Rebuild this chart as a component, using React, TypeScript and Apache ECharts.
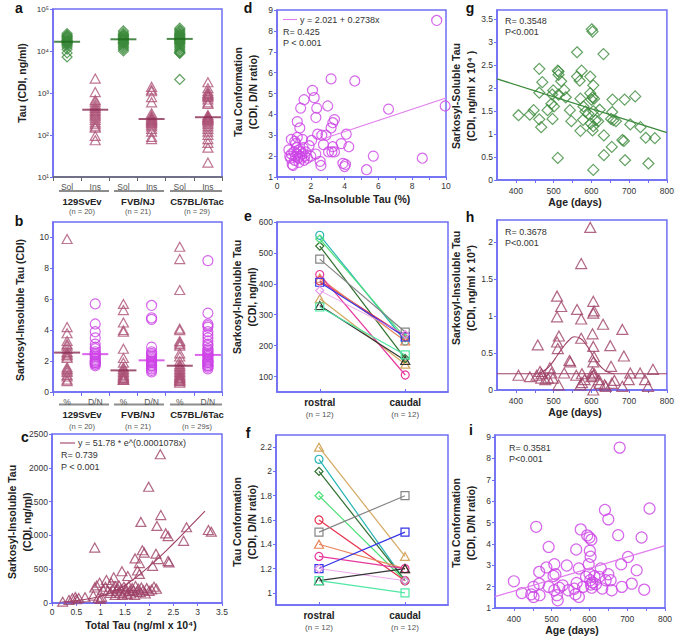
import React, { useEffect, useRef } from 'react';
import * as echarts from 'echarts';

// ---------------- data ----------------
const strains = ['129SvEv', 'FVB/NJ', 'C57BL/6Tac'];
const strainNa = ['(n = 20)', '(n = 21)', '(n = 29)'];
const strainNb = ['(n = 20)', '(n = 21)', '(n = 29s)'];
const catsA = ['Sol', 'Ins', 'Sol', 'Ins', 'Sol', 'Ins'];
const catsB = ['%', 'D/N', '%', 'D/N', '%', 'D/N'];
const supDigits = ['⁰', '¹', '²', '³', '⁴', '⁵'];
const regions = ['rostral', 'caudal'];
const regionN = '(n = 12)';

// panel a (ng/ml)
const solubleTau129 = [26000, 24000, 23000, 22000, 21000, 20000, 19000, 18000, 17500, 17000, 16500, 16000, 15500, 15000, 14500, 13500, 12500, 11000, 9000, 7200];
const insolubleTau129 = [2200, 1050, 680, 620, 540, 480, 440, 400, 370, 340, 310, 290, 260, 230, 200, 180, 160, 150, 95, 75];
const solubleTauFVB = [30000, 27000, 25000, 24000, 23000, 22000, 21000, 20000, 19500, 19000, 18500, 18000, 17000, 16000, 15500, 15000, 14000, 13000, 12000, 11000, 10000];
const insolubleTauFVB = [1400, 1200, 1100, 800, 600, 330, 290, 270, 250, 240, 230, 220, 210, 200, 190, 175, 160, 140, 120, 90, 80];
const solubleTauC57 = [35000, 32000, 30000, 28000, 26000, 25000, 24000, 23000, 22000, 21000, 20000, 19500, 19000, 18500, 18000, 17500, 17000, 16000, 15500, 15000, 14000, 13000, 12000, 11000, 10000, 9500, 9000, 8800, 2100];
const insolubleTauC57 = [1800, 1300, 1100, 1000, 950, 900, 850, 800, 700, 600, 550, 300, 280, 270, 260, 250, 240, 230, 220, 200, 180, 160, 140, 120, 100, 80, 65, 50, 22];
const medianA = [16600, 400, 19000, 240, 19400, 265];

// panel b
const pct129 = [9.9, 4.2, 3.8, 3.3, 3.1, 3.0, 2.8, 2.6, 2.5, 2.4, 2.3, 2.2, 1.6, 1.5, 1.4, 1.3, 1.1, 1.0, 0.8, 0.7];
const dn129 = [5.7, 4.4, 3.9, 3.5, 3.1, 2.9, 2.8, 2.6, 2.5, 2.4, 2.3, 2.2, 2.1, 2.0, 2.0, 1.9, 1.9, 1.8, 1.8, 1.7];
const pctFVB = [5.7, 5.3, 4.5, 4.0, 3.9, 2.8, 2.2, 1.9, 1.6, 1.5, 1.4, 1.3, 1.2, 1.1, 1.0, 1.0, 0.9, 0.9, 0.8, 0.8, 0.8];
const dnFVB = [5.6, 4.8, 4.7, 2.9, 2.6, 2.5, 2.4, 2.3, 2.2, 2.1, 2.0, 2.0, 1.9, 1.9, 1.8, 1.7, 1.7, 1.6, 1.5, 1.4, 1.3];
const pctC57 = [9.4, 8.6, 6.6, 4.1, 4.0, 3.3, 3.2, 3.1, 3.0, 2.5, 2.3, 2.0, 1.8, 1.7, 1.6, 1.5, 1.4, 1.3, 1.2, 1.1, 1.0, 1.0, 0.9, 0.9, 0.8, 0.8, 0.7, 0.7, 0.6];
const dnC57 = [8.5, 5.1, 4.4, 4.3, 4.2, 3.9, 3.7, 3.5, 3.3, 3.1, 3.0, 2.8, 2.7, 2.6, 2.5, 2.4, 2.4, 2.3, 2.2, 2.1, 2.0, 2.0, 1.9, 1.9, 1.8, 1.7, 1.7, 1.6, 1.5];
const medianB = [2.55, 2.45, 1.4, 2.05, 1.7, 2.4];

// panel c: [total tau x1e4, insoluble tau ng/ml]
const totalVsInsoluble = [
  [0.22, 20], [0.35, 45], [0.42, 70], [0.48, 90], [0.5, 55], [0.55, 75], [0.68, 85], [0.85, 110], [0.95, 75], [1.0, 60], [1.02, 90],
  [0.88, 230], [0.92, 260], [0.98, 300], [1.05, 200], [1.1, 240], [1.12, 340], [1.15, 180], [1.2, 150], [1.22, 300], [1.25, 210],
  [1.27, 380], [1.3, 250], [1.3, 120], [1.33, 180], [1.35, 220], [1.38, 260], [1.4, 150], [1.42, 200], [1.44, 470], [1.45, 120],
  [1.48, 240], [1.5, 170], [1.52, 210], [1.55, 130], [1.56, 400], [1.58, 250], [1.6, 180], [1.62, 140], [1.65, 220], [1.68, 190],
  [1.7, 120], [1.71, 660], [1.72, 250], [1.75, 170], [1.76, 480], [1.78, 210], [1.8, 430], [1.8, 590], [1.82, 160], [1.84, 230],
  [1.83, 1200], [1.86, 780], [1.88, 190], [1.9, 745], [1.92, 140], [1.95, 220], [1.99, 1720], [2.0, 180], [2.05, 200], [2.07, 550],
  [2.1, 240], [2.14, 730], [2.16, 1140], [2.15, 210], [2.19, 650], [2.23, 2200], [2.24, 1300], [2.34, 1030], [2.39, 990], [2.39, 620],
  [2.41, 600], [2.71, 920], [2.77, 1120], [3.22, 1080], [3.28, 1055], [0.88, 820],
];
const fitC = [[0.2, 15], [0.6, 45], [1.0, 100], [1.3, 180], [1.6, 310], [1.9, 480], [2.2, 670], [2.5, 880], [2.8, 1100], [3.15, 1360]];

// panel d: [Sa-insoluble %, D/N ratio]
const pctVsConformation = [
  [9.45, 8.5], [3.2, 5.7], [4.6, 5.6], [2.1, 5.15], [2.2, 4.8], [1.6, 4.7], [2.35, 4.3], [1.4, 4.3], [3.0, 4.4], [6.6, 4.25], [9.95, 4.4],
  [2.3, 3.85], [3.4, 3.75], [3.3, 3.6], [1.2, 3.65], [1.35, 3.35], [3.2, 3.35], [2.4, 3.05], [2.65, 3.0], [2.9, 3.0], [4.1, 3.05],
  [0.85, 2.8], [1.5, 2.8], [1.1, 2.6], [3.8, 2.6], [2.05, 2.75], [2.75, 2.55], [3.3, 2.45], [4.25, 2.45], [3.05, 2.2], [3.25, 2.2],
  [3.4, 2.2], [2.3, 2.1], [5.7, 2.0], [8.6, 1.9], [2.55, 1.75], [2.6, 1.55], [3.9, 1.65], [4.05, 1.6], [4.0, 1.5], [5.3, 1.35],
  [0.7, 2.3], [0.75, 2.0], [0.8, 1.9], [0.85, 2.1], [0.9, 1.6], [0.95, 1.55], [1.0, 2.2], [1.05, 1.8], [1.1, 2.0], [1.15, 2.4],
  [1.2, 2.1], [1.25, 1.9], [1.3, 2.3], [1.3, 1.7], [1.35, 2.0], [1.4, 2.2], [1.45, 1.9], [1.5, 2.1], [1.55, 2.4], [1.6, 1.8],
  [1.65, 2.0], [1.7, 2.2], [1.8, 1.9], [1.9, 2.5], [2.0, 2.0], [1.2, 2.9], [1.05, 2.7],
];
const fitD = [[2.6, 2.8], [10, 4.78]];

// panels e, f: 12 animals
const animalColors = ['#d4a860', '#26b3b3', '#2d6e2d', '#4fe07a', '#e6304c', '#858585', '#e8845a', '#e6389c', '#3434e6', '#e892e8', '#333333', '#4fe8a4'];
const animalSymbols = ['triangle', 'circle', 'diamond', 'diamond', 'circle', 'rect', 'triangle', 'circle', 'rect', 'diamond', 'triangle', 'rect'];
const rostralInsoluble = [352, 557, 522, 545, 410, 480, 418, 430, 405, 378, 330, 325];
const caudalInsoluble = [140, 215, 158, 225, 230, 244, 215, 105, 228, 236, 152, 170];
const rostralConformation = [2.2, 2.1, 2.0, 1.8, 1.6, 1.5, 1.4, 1.3, 1.2, 1.2, 1.1, 1.1];
const caudalConformation = [1.3, 1.1, 1.1, 1.1, 1.1, 1.8, 1.2, 1.2, 1.5, 1.1, 1.2, 1.0];

// panel g: [age days, soluble tau x1e4]
const ageVsSoluble = [
  [601, 3.28], [603, 3.23], [632, 2.74], [562, 2.78], [462, 2.42], [511, 2.38], [513, 2.36], [574, 2.38], [597, 2.25], [562, 2.25],
  [569, 2.16], [520, 2.15], [513, 2.29], [470, 2.13], [605, 2.06], [528, 1.96], [499, 1.95], [462, 1.9], [496, 1.86], [513, 1.86],
  [603, 1.8], [607, 1.77], [600, 1.75], [597, 1.89], [571, 1.77], [532, 1.8], [716, 1.82], [688, 1.75], [656, 1.75], [579, 1.6],
  [484, 1.52], [494, 1.66], [501, 1.6], [447, 1.52], [543, 1.52], [622, 1.53], [605, 1.5], [584, 1.49], [592, 1.44], [655, 1.48],
  [652, 1.33], [462, 1.32], [497, 1.33], [547, 1.28], [578, 1.31], [611, 1.3], [618, 1.28], [598, 1.23], [605, 1.17], [658, 1.3],
  [665, 1.28], [703, 1.21], [730, 1.15], [467, 1.15], [407, 1.41], [437, 1.42], [571, 1.07], [603, 1.08], [633, 0.97], [744, 0.92],
  [768, 0.91], [654, 0.72], [682, 0.87], [686, 0.85], [633, 0.54], [689, 0.43], [511, 0.48], [751, 0.36], [605, 0.22],
];
const trendG = [[350, 2.2], [800, 1.03]];

// panel h: [age days, insoluble tau x1e3]
const ageVsInsoluble = [
  [597, 2.2], [573, 1.71], [509, 1.27], [605, 1.2], [520, 1.13], [562, 1.09], [607, 1.07], [605, 1.04], [509, 0.99], [573, 0.96],
  [631, 0.89], [682, 0.82], [603, 0.76], [514, 0.73], [458, 0.61], [509, 0.65], [573, 0.7], [650, 0.6], [605, 0.59], [511, 0.56],
  [686, 0.46], [544, 0.38], [542, 0.4], [607, 0.45], [605, 0.38], [652, 0.32], [763, 0.28], [407, 0.2], [437, 0.18], [464, 0.25],
  [468, 0.22], [494, 0.23], [528, 0.23], [575, 0.22], [603, 0.24], [605, 0.2], [608, 0.22], [600, 0.18], [703, 0.23], [729, 0.23],
  [742, 0.14], [750, 0.05], [682, 0.05], [635, 0.07], [638, 0.05], [571, 0.07], [513, 0.07], [605, 0.0], [467, 0.16], [478, 0.14],
  [485, 0.16], [498, 0.16], [620, 0.14], [661, 0.13], [654, 0.09], [699, 0.14], [582, 0.14], [622, 0.09], [455, 0.2], [490, 0.3],
  [560, 0.2], [575, 0.1],
];
const baselineH = [[350, 0.22], [800, 0.22]];
const peakH = [[460, 0.22], [480, 0.28], [495, 0.36], [510, 0.47], [525, 0.58], [540, 0.67], [555, 0.72], [570, 0.7], [585, 0.62], [600, 0.5], [615, 0.38], [630, 0.29], [645, 0.24], [660, 0.22]];

// panel i: [age days, D/N ratio]
const ageVsConformation = [
  [680, 8.51], [759, 5.66], [641, 5.59], [650, 5.15], [459, 4.8], [577, 4.68], [594, 4.4], [600, 4.3], [605, 4.2], [676, 4.41],
  [738, 4.3], [492, 3.86], [565, 3.74], [601, 3.68], [603, 3.4], [702, 3.39], [507, 3.05], [540, 2.99], [598, 3.05], [684, 3.05],
  [725, 2.77], [467, 2.69], [486, 2.9], [510, 2.58], [572, 2.85], [630, 2.85], [613, 2.49], [650, 2.58], [400, 2.25], [467, 2.14],
  [452, 1.99], [421, 1.7], [446, 1.64], [468, 1.6], [452, 1.52], [507, 1.83], [514, 1.6], [516, 1.36], [492, 1.99], [529, 2.06],
  [544, 1.83], [563, 1.64], [566, 2.17], [572, 1.52], [600, 2.6], [602, 2.3], [604, 2.1], [606, 1.95], [608, 2.2], [591, 2.46],
  [626, 2.46], [634, 1.91], [643, 2.3], [656, 2.3], [659, 1.83], [686, 1.99], [712, 2.14], [745, 1.86], [583, 1.99], [617, 2.11],
  [505, 2.5], [520, 1.95], [560, 1.9],
];
const trendI = [[350, 1.53], [800, 3.92]];

// ---------------- styling ----------------
const FONT = '"Liberation Sans", Arial, Helvetica, sans-serif';
const BLUE = '#6e6ef3';
const GREEN = '#3b8a3b';
const GREEN_D = '#1f6b1f';
const MAROON = '#9e4166';
const MAROON_L = '#ad5377';
const MAROON_D = '#8a2c54';
const MAGENTA = '#cc42e6';
const MAGENTA_L = '#e27cee';

function hollow(color: string, w = 1.2) {
  return { color: 'transparent', borderColor: color, borderWidth: w };
}

function axis(extra: any) {
  const base: any = {
    axisLine: { show: true, onZero: false, lineStyle: { color: BLUE, width: 1.5 } },
    axisTick: { show: true, length: 3, lineStyle: { color: BLUE, width: 1 } },
    axisLabel: { color: '#333', fontSize: 8.5, fontFamily: FONT, margin: 4, formatter: (v: number) => String(v) },
    splitLine: { show: false },
  };
  const out: any = { ...base, ...extra };
  ['axisLine', 'axisTick', 'axisLabel'].forEach((k) => {
    if (extra[k]) out[k] = { ...base[k], ...extra[k] };
  });
  return out;
}

const fmtNum = (v: number) => String(Math.round(v * 10) / 10);

function buildOption() {
  const grids = [
    { left: 53, top: 9, width: 169, height: 168 },
    { left: 53, top: 222, width: 169, height: 170 },
    { left: 52, top: 434, width: 170, height: 169 },
    { left: 277, top: 10, width: 169, height: 167 },
    { left: 277, top: 222, width: 171, height: 170 },
    { left: 276, top: 435, width: 172, height: 170 },
    { left: 497, top: 10, width: 170, height: 170 },
    { left: 497, top: 220, width: 170, height: 170 },
    { left: 495, top: 435, width: 170, height: 173 },
  ].map((g) => ({ ...g, show: true, borderColor: BLUE, borderWidth: 1.5, backgroundColor: 'transparent' }));

  const regionLabel = {
    customValues: [0, 1],
    margin: 4,
    formatter: (v: number) => `{t|${regions[Math.round(v)]}}\n{n|${regionN}}`,
    rich: {
      t: { fontFamily: FONT, fontWeight: 'bold', fontSize: 10, color: '#222', lineHeight: 13 },
      n: { fontFamily: FONT, fontSize: 8, color: '#555', lineHeight: 11 },
    },
  };
  const ages = [400, 500, 600, 700, 800];
  const ageTicks = [400, 450, 500, 550, 600, 650, 700, 750, 800];

  const xAxis = [
    axis({ gridIndex: 0, type: 'category', data: catsA, axisLine: { lineStyle: { color: '#666', width: 1.5 } }, axisTick: { alignWithLabel: false, length: 4, lineStyle: { color: '#666' } }, axisLabel: { color: '#555', margin: 5, formatter: undefined } }),
    axis({ gridIndex: 1, type: 'category', data: catsB, axisTick: { alignWithLabel: false, length: 4 }, axisLabel: { color: '#555', margin: 5, formatter: undefined } }),
    axis({ gridIndex: 2, type: 'value', min: 0, max: 3.5, interval: 0.5 }),
    axis({ gridIndex: 3, type: 'value', min: 0, max: 10, interval: 1, axisLabel: { formatter: (v: number) => (v % 2 === 0 ? String(v) : '') } }),
    axis({ gridIndex: 4, type: 'value', min: -0.5, max: 1.5, axisTick: { inside: true, customValues: [0, 1] }, axisLabel: regionLabel }),
    axis({ gridIndex: 5, type: 'value', min: -0.5, max: 1.5, axisTick: { inside: true, customValues: [0, 1] }, axisLabel: regionLabel }),
    axis({ gridIndex: 6, type: 'value', min: 350, max: 800, axisTick: { customValues: ageTicks }, axisLabel: { customValues: ages, margin: 6 } }),
    axis({ gridIndex: 7, type: 'value', min: 350, max: 800, axisTick: { customValues: ageTicks }, axisLabel: { customValues: ages, margin: 6 } }),
    axis({ gridIndex: 8, type: 'value', min: 350, max: 800, axisTick: { customValues: ageTicks }, axisLabel: { customValues: ages, margin: 6 } }),
  ];

  const yAxis = [
    axis({ gridIndex: 0, type: 'log', logBase: 10, min: 10, max: 100000, axisLabel: { fontSize: 8, formatter: (v: number) => '10' + supDigits[Math.round(Math.log10(v))] } }),
    axis({ gridIndex: 1, type: 'value', min: 0, max: 11, axisTick: { customValues: [0, 2, 4, 6, 8, 10] }, axisLabel: { customValues: [0, 2, 4, 6, 8, 10] } }),
    axis({ gridIndex: 2, type: 'value', min: 0, max: 2500, interval: 500 }),
    axis({ gridIndex: 3, type: 'value', min: 1, max: 9, interval: 1 }),
    axis({ gridIndex: 4, type: 'value', min: 50, max: 600, axisTick: { customValues: [100, 200, 300, 400, 500, 600] }, axisLabel: { customValues: [100, 200, 300, 400, 500, 600] } }),
    axis({ gridIndex: 5, type: 'value', min: 0.9, max: 2.3, axisTick: { customValues: [1, 1.2, 1.4, 1.6, 1.8, 2, 2.2] }, axisLabel: { customValues: [1, 1.2, 1.4, 1.6, 1.8, 2, 2.2], formatter: fmtNum } }),
    axis({ gridIndex: 6, type: 'value', min: 0, max: 3.7, axisTick: { customValues: [0, 0.5, 1, 1.5, 2, 2.5, 3, 3.5] }, axisLabel: { customValues: [0, 0.5, 1, 1.5, 2, 2.5, 3, 3.5], formatter: fmtNum } }),
    axis({ gridIndex: 7, type: 'value', min: 0, max: 2.3, axisTick: { customValues: [0, 0.5, 1, 1.5, 2] }, axisLabel: { customValues: [0, 0.5, 1, 1.5, 2], formatter: fmtNum } }),
    axis({ gridIndex: 8, type: 'value', min: 1, max: 9.1, axisTick: { customValues: [1, 2, 3, 4, 5, 6, 7, 8, 9] }, axisLabel: { customValues: [1, 2, 3, 4, 5, 6, 7, 8, 9] } }),
  ];

  const series: any[] = [];
  // a
  const aSol = [solubleTau129, solubleTauFVB, solubleTauC57];
  const aIns = [insolubleTau129, insolubleTauFVB, insolubleTauC57];
  series.push({ type: 'scatter', xAxisIndex: 0, yAxisIndex: 0, symbol: 'diamond', symbolSize: [10, 10], itemStyle: hollow(GREEN), data: aSol.flatMap((arr, g) => arr.map((v) => [2 * g, v])) });
  series.push({ type: 'scatter', xAxisIndex: 0, yAxisIndex: 0, symbol: 'triangle', symbolSize: [10, 9], itemStyle: hollow(MAROON_L), data: aIns.flatMap((arr, g) => arr.map((v) => [2 * g + 1, v])) });
  series.push({ type: 'scatter', xAxisIndex: 0, yAxisIndex: 0, symbol: 'rect', symbolSize: [26, 2], z: 5, data: medianA.map((v, i) => ({ value: [i, v], itemStyle: { color: i % 2 ? MAROON_D : GREEN_D } })) });
  // b
  const bPct = [pct129, pctFVB, pctC57];
  const bDn = [dn129, dnFVB, dnC57];
  series.push({ type: 'scatter', xAxisIndex: 1, yAxisIndex: 1, symbol: 'triangle', symbolSize: [10, 9], itemStyle: hollow(MAROON_L), data: bPct.flatMap((arr, g) => arr.map((v) => [2 * g, v])) });
  series.push({ type: 'scatter', xAxisIndex: 1, yAxisIndex: 1, symbol: 'circle', symbolSize: 10, itemStyle: hollow(MAGENTA), data: bDn.flatMap((arr, g) => arr.map((v) => [2 * g + 1, v])) });
  series.push({ type: 'scatter', xAxisIndex: 1, yAxisIndex: 1, symbol: 'rect', symbolSize: [26, 2], z: 5, data: medianB.map((v, i) => ({ value: [i, v], itemStyle: { color: i % 2 ? '#d23ce8' : MAROON_D } })) });
  // c
  series.push({ type: 'scatter', xAxisIndex: 2, yAxisIndex: 2, symbol: 'triangle', symbolSize: [10, 9], itemStyle: hollow(MAROON), data: totalVsInsoluble });
  series.push({ type: 'line', xAxisIndex: 2, yAxisIndex: 2, smooth: true, symbol: 'none', lineStyle: { color: MAROON, width: 1.1 }, data: fitC });
  // d
  series.push({ type: 'scatter', xAxisIndex: 3, yAxisIndex: 3, symbol: 'circle', symbolSize: 10, itemStyle: hollow(MAGENTA), data: pctVsConformation });
  series.push({ type: 'line', xAxisIndex: 3, yAxisIndex: 3, symbol: 'none', lineStyle: { color: MAGENTA_L, width: 1.1 }, data: fitD });
  // e, f
  animalColors.forEach((c, k) => {
    const common = {
      type: 'line', symbol: animalSymbols[k], symbolSize: animalSymbols[k] === 'triangle' ? [9, 8] : 8, showSymbol: true,
      lineStyle: { color: c, width: k === 9 ? 0.8 : 1.2 }, itemStyle: hollow(c, 1.2),
    };
    series.push({ ...common, xAxisIndex: 4, yAxisIndex: 4, data: [[0, rostralInsoluble[k]], [1, caudalInsoluble[k]]] });
    series.push({ ...common, xAxisIndex: 5, yAxisIndex: 5, data: [[0, rostralConformation[k]], [1, caudalConformation[k]]] });
  });
  // g
  series.push({ type: 'scatter', xAxisIndex: 6, yAxisIndex: 6, symbol: 'diamond', symbolSize: [11, 11], itemStyle: hollow(GREEN), data: ageVsSoluble });
  series.push({ type: 'line', xAxisIndex: 6, yAxisIndex: 6, symbol: 'none', lineStyle: { color: GREEN, width: 1.3 }, data: trendG });
  // h
  series.push({ type: 'scatter', xAxisIndex: 7, yAxisIndex: 7, symbol: 'triangle', symbolSize: [11, 10], itemStyle: hollow(MAROON), data: ageVsInsoluble });
  series.push({ type: 'line', xAxisIndex: 7, yAxisIndex: 7, symbol: 'none', lineStyle: { color: MAROON, width: 1.1 }, data: baselineH });
  series.push({ type: 'line', xAxisIndex: 7, yAxisIndex: 7, smooth: true, symbol: 'none', lineStyle: { color: MAROON, width: 1.1 }, data: peakH });
  // i
  series.push({ type: 'scatter', xAxisIndex: 8, yAxisIndex: 8, symbol: 'circle', symbolSize: 11, itemStyle: hollow(MAGENTA), data: ageVsConformation });
  series.push({ type: 'line', xAxisIndex: 8, yAxisIndex: 8, symbol: 'none', lineStyle: { color: MAGENTA_L, width: 1.2 }, data: trendI });

  // ---------- annotations ----------
  const T = (x: number, y: number, text: string, s: any = {}) => ({
    type: 'text', x, y, silent: true,
    style: { text, fontFamily: FONT, fontSize: 9, fill: '#333', align: 'left', verticalAlign: 'middle', ...s },
  });
  const VT = (x: number, y: number, text: string) => ({
    type: 'text', x, y, rotation: Math.PI / 2, silent: true,
    style: { text, fontFamily: FONT, fontSize: 10.5, fontWeight: 'bold', fill: '#222', align: 'center', verticalAlign: 'middle', lineHeight: 15 },
  });
  const XT = (x: number, y: number, text: string) => T(x, y, text, { fontSize: 10.5, fontWeight: 'bold', fill: '#222', align: 'center' });
  const L = (x1: number, y1: number, x2: number, y2: number, stroke: string, w: number) => ({
    type: 'line', silent: true, shape: { x1, y1, x2, y2 }, style: { stroke, lineWidth: w },
  });
  const letter = (x: number, y: number, t: string) => T(x, y, t, { fontSize: 14, fontWeight: 'bold', fill: '#111', align: 'center' });

  const graphics: any[] = [];
  [['a', 19, 8], ['b', 19, 221], ['c', 25, 437], ['d', 248, 8], ['e', 248, 216], ['f', 248, 433], ['g', 470, 8], ['h', 470, 217], ['i', 471, 430]]
    .forEach(([t, x, y]: any) => graphics.push(letter(x, y, t)));

  // strain labels below a and b
  const pairX = [[59, 109], [114, 164], [170, 222]];
  const strainX = [82, 138, 197];
  pairX.forEach(([x1, x2], i) => {
    graphics.push(L(x1, 191, x2, 191, '#8c8c8c', 2));
    graphics.push(L(x1, 404.5, x2, 404.5, '#8c8c8c', 2));
    graphics.push(T(strainX[i], 201, strains[i], { fontSize: 9.5, fontWeight: 'bold', fill: '#222', align: 'center' }));
    graphics.push(T(strainX[i], 211, strainNa[i], { fontSize: 7.5, fill: '#555', align: 'center' }));
    graphics.push(T(strainX[i], 414.5, strains[i], { fontSize: 9.5, fontWeight: 'bold', fill: '#222', align: 'center' }));
    graphics.push(T(strainX[i], 426.5, strainNb[i], { fontSize: 7.5, fill: '#555', align: 'center' }));
  });

  // y-axis titles
  graphics.push(VT(22, 83, 'Tau (CDI, ng/ml)'));
  graphics.push(VT(20, 310, 'Sarkosyl-Insoluble Tau (CDI)'));
  graphics.push(VT(19, 522, 'Sarkosyl-Insoluble Tau\n(CDI, ng/ml)'));
  graphics.push(VT(245.5, 92, 'Tau Conformation\n(CDI, D/N ratio)'));
  graphics.push(VT(244.5, 297, 'Sarkosyl-Insoluble Tau\n(CDI, ng/ml)'));
  graphics.push(VT(244.5, 522, 'Tau Conformation\n(CDI, D/N ratio)'));
  graphics.push(VT(463.5, 96, 'Sarkosyl-Soluble Tau\n(CDI, ng/ml x 10⁴ )'));
  graphics.push(VT(463.5, 288, 'Sarkosyl-Insoluble Tau\n(CDI, ng/ml x 10³)'));
  graphics.push(VT(463.5, 523, 'Tau Conformation\n(CDI, D/N ratio)'));

  // x-axis titles
  graphics.push(XT(141, 625, 'Total Tau (ng/ml x 10⁴)'));
  graphics.push(XT(359, 199, 'Sa-Insoluble Tau (%)'));
  graphics.push(XT(575, 202, 'Age (days)'));
  graphics.push(XT(575, 412, 'Age (days)'));
  graphics.push(XT(572, 630, 'Age (days)'));

  // fit legends / statistics
  graphics.push(L(60, 443, 75, 443, MAROON, 1.1));
  graphics.push(T(78, 443, 'y = 51.78 * e^(0.0001078x)'));
  graphics.push(T(61, 455, 'R= 0.739'));
  graphics.push(T(61, 466.5, 'P < 0.001'));
  graphics.push(L(283, 19.5, 297, 19.5, MAGENTA_L, 1.1));
  graphics.push(T(300, 19.5, 'y = 2.021 + 0.2738x'));
  graphics.push(T(283, 32, 'R= 0.425'));
  graphics.push(T(283, 42.5, 'P < 0.001'));
  graphics.push(T(505, 20.5, 'R= 0.3548'));
  graphics.push(T(505, 31.5, 'P<0.001'));
  graphics.push(T(505, 232, 'R= 0.3678'));
  graphics.push(T(505, 242.5, 'P<0.001'));
  graphics.push(T(509, 448, 'R= 0.3581'));
  graphics.push(T(509, 459, 'P<0.001'));

  return {
    animation: false,
    backgroundColor: '#ffffff',
    textStyle: { fontFamily: FONT },
    grid: grids,
    xAxis,
    yAxis,
    series,
    graphic: { elements: graphics },
  };
}

export default function App() {
  const ref = useRef<HTMLDivElement>(null);
  useEffect(() => {
    document.body.style.margin = '0';
    if (!ref.current) return;
    const chart = echarts.init(ref.current, undefined, { renderer: 'svg' });
    chart.setOption(buildOption() as any);
    return () => chart.dispose();
  }, []);
  return <div ref={ref} style={{ width: 677, height: 637, background: '#fff' }} />;
}
